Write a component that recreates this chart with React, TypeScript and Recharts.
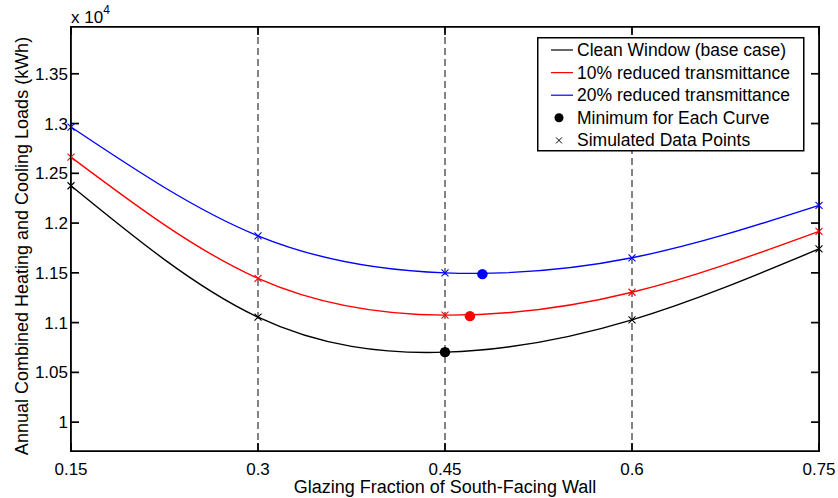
import React from "react";
import {
  ComposedChart,
  Line,
  Scatter,
  Cell,
  XAxis,
  YAxis,
  ReferenceLine,
} from "recharts";

// glazing fraction (simulated points)
const glazing = [0.15, 0.3, 0.45, 0.6, 0.75];
// annual loads, x 10^4 kWh
const cleanWindow = [1.2375, 1.1055, 1.0703, 1.1028, 1.174];
const reduced10 = [1.2663, 1.1445, 1.1075, 1.1305, 1.1917];
const reduced20 = [1.2965, 1.1872, 1.15, 1.1651, 1.2178];

// minimum of each curve
const minGlazing = [0.45, 0.47, 0.48];
const minLoad = [1.0703, 1.1065, 1.1487];
const minColors = ["#000000", "#ff0000", "#0000ff"];

const xTicks = [0.15, 0.3, 0.45, 0.6, 0.75];
const gridX = [0.3, 0.45, 0.6];
const yTicks = [1, 1.05, 1.1, 1.15, 1.2, 1.25, 1.3, 1.35];
const xDomain = [0.15, 0.75];
const yDomain = [0.971, 1.397];

const seriesNames = [
  "Clean Window (base case)",
  "10% reduced transmittance",
  "20% reduced transmittance",
];
const markerNames = ["Minimum for Each Curve", "Simulated Data Points"];

const FONT = "'Liberation Sans', Arial, Helvetica, sans-serif";

// plot box (matches chart margins + axis sizes)
const PLOT = { left: 71, top: 27, right: 819, bottom: 451 };

const toPoints = (ys: number[]) => glazing.map((x, i) => ({ x, y: ys[i] }));

const series = [
  { key: "clean", data: toPoints(cleanWindow), color: "#000000" },
  { key: "r10", data: toPoints(reduced10), color: "#ff0000" },
  { key: "r20", data: toPoints(reduced20), color: "#0000ff" },
];
const minima = minGlazing.map((x, i) => ({ x, y: minLoad[i] }));

const cross = (color: string) => (props: any) => {
  const { cx, cy } = props;
  if (cx == null || cy == null) return <g />;
  const s = 3.5;
  return (
    <path
      key={`${color}-${cx}`}
      d={`M${cx - s},${cy - s}L${cx + s},${cy + s}M${cx - s},${cy + s}L${cx + s},${cy - s}`}
      stroke={color}
      strokeWidth={1.1}
      fill="none"
    />
  );
};

function LegendBox() {
  const rowY = (i: number) => 13 + i * 22.6;
  const fs = 17.5;
  return (
    <svg width={268} height={115} style={{ display: "block" }}>
      <rect x={0.75} y={0.75} width={266} height={113} fill="#fff" stroke="#000" strokeWidth={1.5} />
      {seriesNames.map((name, i) => (
        <g key={name}>
          <line x1={14} x2={36} y1={rowY(i)} y2={rowY(i)} stroke={series[i].color} strokeWidth={1.2} />
          <text x={40} y={rowY(i) + 6} fontSize={fs} fontFamily={FONT} fill="#000">
            {name}
          </text>
        </g>
      ))}
      <circle cx={22} cy={rowY(3)} r={4.5} fill="#000" />
      <text x={40} y={rowY(3) + 6} fontSize={fs} fontFamily={FONT} fill="#000">
        {markerNames[0]}
      </text>
      <path
        d={`M${19},${rowY(4) - 3}L${25},${rowY(4) + 3}M${19},${rowY(4) + 3}L${25},${rowY(4) - 3}`}
        stroke="#000"
        strokeWidth={1}
      />
      <text x={40} y={rowY(4) + 6} fontSize={fs} fontFamily={FONT} fill="#000">
        {markerNames[1]}
      </text>
    </svg>
  );
}

export default function App() {
  const tickStyle = { fontSize: 17, fill: "#000", fontFamily: FONT };
  const bw = 1.7;
  return (
    <div style={{ position: "absolute", left: 0, top: 0, width: 838, height: 498, background: "#fff" }}>
      <ComposedChart width={838} height={498} margin={{ top: 26, right: 18, bottom: 7, left: 11 }}>
        {gridX.map((g) => (
          <ReferenceLine
            key={g}
            xAxisId="b"
            yAxisId="l"
            x={g}
            stroke="#333"
            strokeWidth={1.2}
            strokeDasharray="7 4"
          />
        ))}
        <XAxis
          xAxisId="b"
          dataKey="x"
          type="number"
          domain={xDomain}
          ticks={xTicks}
          height={40}
          tickSize={-8}
          tickMargin={20}
          stroke="#000"
          strokeWidth={bw}
          tick={tickStyle}
          label={{
            content: () => (
              <text x={445} y={493} textAnchor="middle" fontSize={18} fontFamily={FONT} fill="#000">
                Glazing Fraction of South-Facing Wall
              </text>
            ),
          }}
        />
        <XAxis
          xAxisId="t"
          dataKey="x"
          type="number"
          orientation="top"
          domain={xDomain}
          ticks={xTicks}
          height={1}
          tickSize={-8}
          tickFormatter={() => ""}
          stroke="#000"
          strokeWidth={bw}
        />
        <YAxis
          yAxisId="l"
          dataKey="y"
          type="number"
          domain={yDomain}
          ticks={yTicks}
          width={60}
          tickSize={-8}
          tickMargin={11}
          stroke="#000"
          strokeWidth={bw}
          tick={tickStyle}
          label={{
            content: () => (
              <g>
                <text
                  x={28}
                  y={246}
                  transform="rotate(-90 28 246)"
                  textAnchor="middle"
                  fontSize={18}
                  fontFamily={FONT}
                  fill="#000"
                >
                  Annual Combined Heating and Cooling Loads (kWh)
                </text>
                <text x={71} y={23} fontSize={17} fontFamily={FONT} fill="#000">
                  x 10
                  <tspan dy={-9} fontSize={12}>
                    4
                  </tspan>
                </text>
              </g>
            ),
          }}
        />
        <YAxis
          yAxisId="r"
          dataKey="y"
          type="number"
          orientation="right"
          domain={yDomain}
          ticks={yTicks}
          width={1}
          tickSize={-8}
          tickFormatter={() => ""}
          stroke="#000"
          strokeWidth={bw}
        />
        <Line
          xAxisId="t"
          yAxisId="r"
          data={series[0].data}
          dataKey="y"
          stroke="none"
          dot={false}
          activeDot={false}
          legendType="none"
          isAnimationActive={false}
        />
        {series.map((s) => (
          <Line
            key={s.key}
            xAxisId="b"
            yAxisId="l"
            data={s.data}
            dataKey="y"
            type="natural"
            stroke={s.color}
            strokeWidth={1.4}
            dot={cross(s.color)}
            activeDot={false}
            isAnimationActive={false}
          />
        ))}
        <Scatter
          xAxisId="b"
          yAxisId="l"
          data={minima}
          isAnimationActive={false}
          shape={(p: any) => <circle cx={p.cx} cy={p.cy} r={5.2} fill={p.fill} />}
        >
          {minima.map((_, i) => (
            <Cell key={i} fill={minColors[i]} />
          ))}
        </Scatter>
      </ComposedChart>
      <div
        style={{
          position: "absolute",
          left: PLOT.left - bw / 2,
          top: PLOT.top - bw / 2,
          width: PLOT.right - PLOT.left + bw,
          height: PLOT.bottom - PLOT.top + bw,
          boxSizing: "border-box",
          border: `${bw}px solid #000`,
          pointerEvents: "none",
        }}
      />
      <div style={{ position: "absolute", left: 537, top: 37 }}>
        <LegendBox />
      </div>
    </div>
  );
}
